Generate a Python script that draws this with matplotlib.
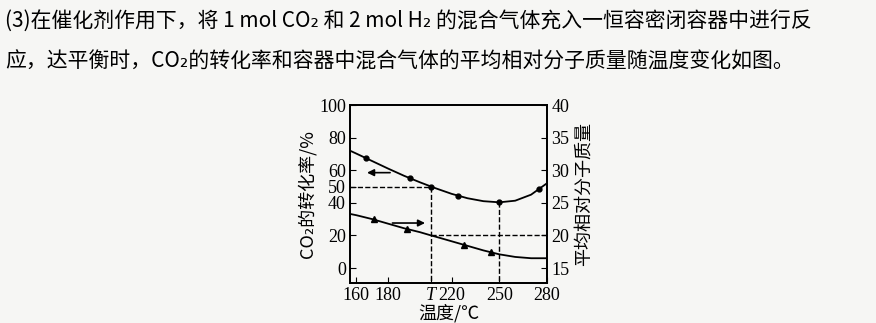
import matplotlib
import matplotlib.pyplot as plt
import numpy as np

matplotlib.use('agg')

cjk = ['Noto Sans CJK SC', 'DejaVu Sans']
num = ['Liberation Serif', 'DejaVu Serif']

# CO2 conversion (%), left axis
temp_conv = [156, 160, 170, 180, 190, 200, 207, 210, 220, 230, 240, 250, 260, 270, 280]
conv = [72, 70.2, 65.6, 61, 56.6, 52.6, 50, 48.9, 45.5, 42.8, 41, 40.3, 41.3, 45, 52]
conv_mark_t = [166, 194, 207, 224, 250, 275]
conv_mark = [67.5, 55, 50, 44.3, 40.3, 48.3]

# average relative molecular mass, right axis
temp_mass = [156, 160, 170, 180, 190, 200, 207, 210, 220, 230, 240, 250, 260, 270, 280]
mass = [23.3, 23.1, 22.5, 21.8, 21.1, 20.5, 20, 19.8, 19.1, 18.4, 17.7, 17.1, 16.7, 16.5, 16.5]
mass_mark_t = [171, 192, 228, 245]
mass_mark = [22.5, 21.0, 18.5, 17.4]

T = 207
x_ticks = [160, 180, T, 220, 250, 280]
x_labels = ['160', '180', 'T', '220', '250', '280']
left_ticks = [0, 20, 40, 50, 60, 80, 100]
right_ticks = [15, 20, 25, 30, 35, 40]

fig = plt.figure(figsize=(8.76, 3.23), dpi=100, facecolor='#f6f6f4')
ax = fig.add_axes([0.3995, 0.1238, 0.2249, 0.5511])
ax.set_facecolor('#f6f6f4')
ax2 = ax.twinx()

ax.plot(temp_conv, conv, color='black', lw=1.3)
ax.plot(conv_mark_t, conv_mark, 'o', color='black', ms=3.5)
ax2.plot(temp_mass, mass, color='black', lw=1.3)
ax2.plot(mass_mark_t, mass_mark, '^', color='black', ms=5)

# dashed guides
ax.plot([156, T], [50, 50], ls='--', color='black', lw=1)
ax.plot([T, T], [50, -9.2], ls='--', color='black', lw=1)
ax.plot([T, 280], [20, 20], ls='--', color='black', lw=1)
ax.plot([250, 250], [40.3, -9.2], ls='--', color='black', lw=1)

# arrows
ax.annotate('', xy=(165, 58.5), xytext=(183, 58.5),
            arrowprops=dict(arrowstyle='-|>', color='black', lw=1.2, mutation_scale=10))
ax.annotate('', xy=(205, 27.6), xytext=(181, 27.6),
            arrowprops=dict(arrowstyle='-|>', color='black', lw=1.2, mutation_scale=10))

ax.set_xlim(156, 280)
ax.set_ylim(-9.2, 100)
ax2.set_ylim(12.7, 40)

ax.set_xticks(x_ticks)
ax.set_xticklabels(x_labels, fontfamily=num, fontsize=13)
ax.get_xticklabels()[2].set_fontstyle('italic')
ax.set_yticks(left_ticks)
ax.set_yticklabels([str(v) for v in left_ticks], fontfamily=num, fontsize=13)
ax2.set_yticks(right_ticks)
ax2.set_yticklabels([str(v) for v in right_ticks], fontfamily=num, fontsize=13)
ax.tick_params(direction='in', length=4, pad=3)
ax2.tick_params(direction='in', length=4, pad=3)

for a in (ax, ax2):
    for s in a.spines.values():
        s.set_linewidth(1.3)

ax.set_ylabel('CO₂的转化率/%', fontfamily=cjk, fontsize=13, labelpad=2)
ax2.set_ylabel('平均相对分子质量', fontfamily=cjk, fontsize=13, rotation=90, labelpad=4)
ax.set_xlabel('温度/℃', fontfamily=cjk, fontsize=13, labelpad=0)

fig.text(0.006, 0.935, '(3)在催化剂作用下，将 1 mol CO₂ 和 2 mol H₂ 的混合气体充入一恒容密闭容器中进行反',
         fontfamily=cjk, fontsize=15, va='center')
fig.text(0.006, 0.81, '应，达平衡时，CO₂的转化率和容器中混合气体的平均相对分子质量随温度变化如图。',
         fontfamily=cjk, fontsize=15, va='center')

plt.savefig('out.png', facecolor=fig.get_facecolor())
